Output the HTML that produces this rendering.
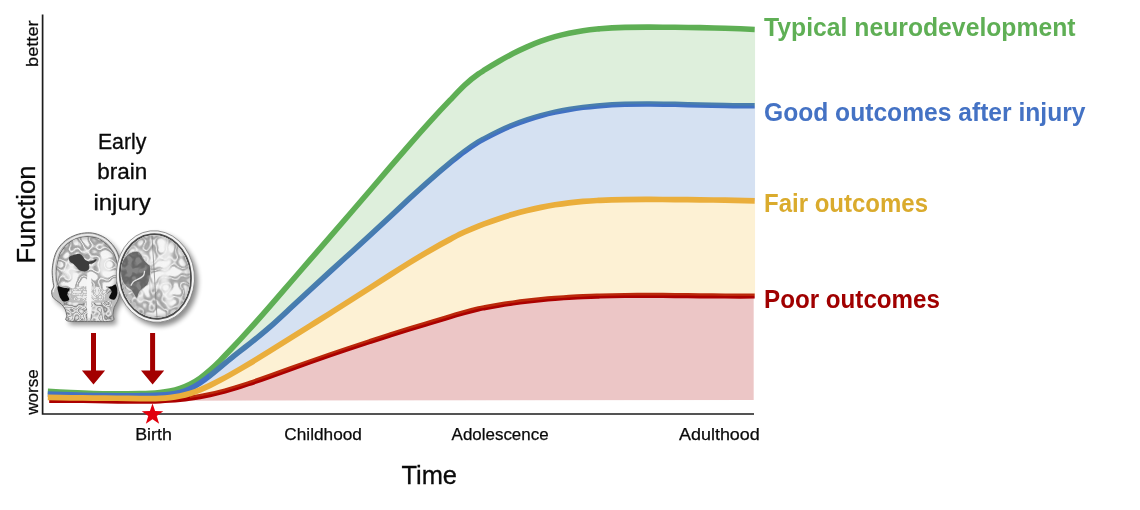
<!DOCTYPE html>
<html lang="en">
<head>
<meta charset="utf-8">
<title>Neurodevelopmental outcomes after early brain injury</title>
<style>
html,body{margin:0;padding:0;background:#fff;}
body{width:1140px;height:510px;overflow:hidden;font-family:"Liberation Sans",sans-serif;}
svg{display:block;}
text{font-family:"Liberation Sans",sans-serif;}
.lg{font-size:25px;font-weight:bold;}
.ax{font-size:25.4px;fill:#0a0a0a;stroke:#0a0a0a;stroke-width:0.3px;}
.sm{font-size:17.1px;fill:#0a0a0a;stroke:#0a0a0a;stroke-width:0.25px;}
.md{font-size:21.8px;fill:#0a0a0a;stroke:#0a0a0a;stroke-width:0.3px;}
</style>
</head>
<body>
<svg width="1140" height="510" viewBox="0 0 1140 510">
<rect width="1140" height="510" fill="#ffffff"/>
<!-- outcome curves -->
<g stroke-linejoin="round">
<path d="M47.80,391.34 C55.47,391.75 63.13,392.20 70.80,392.60 C78.47,393.00 86.13,393.36 93.80,393.56 C101.47,393.76 109.13,393.80 116.80,393.77 C124.47,393.74 132.13,393.63 139.80,393.50 C139.87,393.50 139.93,393.50 140.00,393.50 C143.33,393.44 146.67,393.37 150.00,393.23 C153.33,393.09 156.67,392.87 160.00,392.52 C163.33,392.17 166.67,391.68 170.00,391.01 C173.33,390.34 176.67,389.48 180.00,388.36 C183.33,387.24 186.67,385.87 190.00,384.20 C193.33,382.53 196.67,380.54 200.00,378.19 C203.33,375.84 206.67,373.12 210.00,370.15 C213.33,367.18 216.67,363.97 220.00,360.62 C223.33,357.27 226.67,353.80 230.00,350.29 C233.33,346.78 236.67,343.22 240.00,339.62 C243.33,336.02 246.67,332.37 250.00,328.68 C256.67,321.30 263.33,313.73 270.00,306.06 C276.67,298.39 283.33,290.68 290.00,282.99 C296.67,275.30 303.33,267.63 310.00,259.95 C316.67,252.27 323.33,244.59 330.00,236.90 C336.67,229.21 343.33,221.49 350.00,213.76 C356.67,206.03 363.33,198.27 370.00,190.48 C376.67,182.69 383.33,174.90 390.00,167.14 C396.67,159.38 403.33,151.68 410.00,144.07 C416.67,136.46 423.33,128.96 430.00,121.62 C436.67,114.28 443.33,107.12 450.00,100.17 C454.83,95.13 459.67,89.96 464.50,85.32 C469.17,80.84 473.83,77.01 478.50,73.82 C480.67,72.35 482.83,71.08 485.00,69.71 C489.67,66.75 494.33,63.92 499.00,61.23 C503.67,58.54 508.33,55.99 513.00,53.59 C517.67,51.19 522.33,48.96 527.00,46.89 C531.67,44.82 536.33,42.92 541.00,41.21 C545.67,39.50 550.33,37.99 555.00,36.66 C559.67,35.33 564.33,34.20 569.00,33.22 C573.67,32.24 578.33,31.42 583.00,30.73 C587.67,30.04 592.33,29.49 597.00,29.04 C598.00,28.94 599.00,28.86 600.00,28.77 C608.33,28.05 616.67,27.63 625.00,27.40 C633.33,27.17 641.67,27.12 650.00,27.14 C658.33,27.16 666.67,27.22 675.00,27.31 C683.33,27.40 691.67,27.51 700.00,27.67 C708.33,27.83 716.67,28.03 725.00,28.29 C734.90,28.60 744.80,28.98 754.70,29.47" fill="none" stroke="#5FAF55" stroke-width="5.6"/>
<path d="M47.80,394.00 C55.47,394.34 63.13,394.62 70.80,394.85 C78.47,395.08 86.13,395.27 93.80,395.40 C101.47,395.53 109.13,395.60 116.80,395.64 C124.47,395.68 132.13,395.70 139.80,395.63 C139.87,395.63 139.93,395.62 140.00,395.62 C143.33,395.59 146.67,395.54 150.00,395.45 C153.33,395.36 156.67,395.23 160.00,395.05 C163.33,394.87 166.67,394.63 170.00,394.22 C173.33,393.81 176.67,393.22 180.00,392.35 C183.33,391.48 186.67,390.33 190.00,388.77 C193.33,387.21 196.67,385.25 200.00,383.02 C203.33,380.79 206.67,378.28 210.00,375.63 C213.33,372.98 216.67,370.20 220.00,367.41 C223.33,364.62 226.67,361.83 230.00,359.13 C233.33,356.43 236.67,353.80 240.00,351.18 C243.33,348.56 246.67,345.96 250.00,343.34 C256.67,338.09 263.33,332.75 270.00,326.93 C276.67,321.11 283.33,314.83 290.00,308.61 C296.67,302.39 303.33,296.19 310.00,290.02 C316.67,283.85 323.33,277.72 330.00,271.64 C336.67,265.56 343.33,259.52 350.00,253.47 C356.67,247.42 363.33,241.37 370.00,235.23 C376.67,229.09 383.33,222.87 390.00,216.64 C396.67,210.41 403.33,204.19 410.00,198.05 C416.67,191.91 423.33,185.85 430.00,179.97 C436.67,174.09 443.33,168.38 450.00,162.94 C454.83,158.99 459.67,154.89 464.50,151.42 C469.17,148.07 473.83,144.91 478.50,141.94 C480.67,140.56 482.83,139.56 485.00,138.36 C489.67,135.77 494.33,133.37 499.00,131.15 C503.67,128.93 508.33,126.88 513.00,125.00 C517.67,123.12 522.33,121.41 527.00,119.84 C531.67,118.27 536.33,116.86 541.00,115.58 C545.67,114.30 550.33,113.16 555.00,112.14 C559.67,111.12 564.33,110.22 569.00,109.43 C573.67,108.64 578.33,107.96 583.00,107.38 C587.67,106.80 592.33,106.31 597.00,105.90 C598.00,105.81 599.00,105.73 600.00,105.65 C608.33,104.99 616.67,104.58 625.00,104.34 C633.33,104.10 641.67,104.03 650.00,104.06 C658.33,104.09 666.67,104.21 675.00,104.37 C683.33,104.53 691.67,104.72 700.00,104.92 C708.33,105.12 716.67,105.32 725.00,105.48 C734.90,105.67 744.80,105.81 754.70,105.82" fill="none" stroke="#4472C4" stroke-width="5.5"/>
<path d="M49.20,400.30 C56.87,400.25 64.53,400.28 72.20,400.36 C79.87,400.44 87.53,400.57 95.20,400.71 C102.87,400.85 110.53,401.01 118.20,401.12 C125.47,401.22 132.73,401.27 140.00,401.23 C143.33,401.21 146.67,401.17 150.00,401.10 C153.33,401.03 156.67,400.92 160.00,400.78 C163.33,400.64 166.67,400.45 170.00,400.22 C173.33,399.99 176.67,399.71 180.00,399.37 C183.33,399.03 186.67,398.64 190.00,398.18 C193.33,397.72 196.67,397.21 200.00,396.61 C203.33,396.01 206.67,395.34 210.00,394.60 C213.33,393.86 216.67,393.06 220.00,392.20 C223.33,391.34 226.67,390.43 230.00,389.47 C233.33,388.51 236.67,387.51 240.00,386.46 C243.33,385.41 246.67,384.32 250.00,383.21 C256.67,380.98 263.33,378.63 270.00,376.24 C276.67,373.85 283.33,371.40 290.00,368.98 C296.67,366.56 303.33,364.18 310.00,361.83 C316.67,359.48 323.33,357.16 330.00,354.87 C336.67,352.58 343.33,350.33 350.00,348.11 C356.67,345.89 363.33,343.69 370.00,341.52 C376.67,339.35 383.33,337.21 390.00,335.10 C396.67,332.99 403.33,330.89 410.00,328.83 C416.67,326.77 423.33,324.73 430.00,322.71 C436.67,320.69 443.33,318.69 450.00,316.71 C454.83,315.28 459.67,313.84 464.50,312.44 C469.17,311.08 473.83,309.89 478.50,308.87 C480.67,308.39 482.83,308.05 485.00,307.63 C489.67,306.73 494.33,305.90 499.00,305.13 C503.67,304.36 508.33,303.64 513.00,302.98 C517.67,302.32 522.33,301.71 527.00,301.16 C531.67,300.61 536.33,300.11 541.00,299.65 C545.67,299.19 550.33,298.78 555.00,298.41 C559.67,298.04 564.33,297.72 569.00,297.43 C573.67,297.14 578.33,296.89 583.00,296.67 C587.67,296.45 592.33,296.27 597.00,296.12 C598.00,296.09 599.00,296.05 600.00,296.02 C608.33,295.77 616.67,295.61 625.00,295.51 C633.33,295.41 641.67,295.39 650.00,295.40 C658.33,295.41 666.67,295.47 675.00,295.54 C683.33,295.61 691.67,295.71 700.00,295.79 C708.33,295.87 716.67,295.95 725.00,296.00 C734.90,296.06 744.80,296.07 754.70,296.00" fill="none" stroke="#AC0000" stroke-width="5.2"/>
</g>
<!-- shaded outcome bands -->
<g>
<clipPath id="cg"><rect x="209.0" y="0" width="546.2" height="420"/></clipPath>
<path d="M47.80,391.34 C55.47,391.75 63.13,392.20 70.80,392.60 C78.47,393.00 86.13,393.36 93.80,393.56 C101.47,393.76 109.13,393.80 116.80,393.77 C124.47,393.74 132.13,393.63 139.80,393.50 C139.87,393.50 139.93,393.50 140.00,393.50 C143.33,393.44 146.67,393.37 150.00,393.23 C153.33,393.09 156.67,392.87 160.00,392.52 C163.33,392.17 166.67,391.68 170.00,391.01 C173.33,390.34 176.67,389.48 180.00,388.36 C183.33,387.24 186.67,385.87 190.00,384.20 C193.33,382.53 196.67,380.54 200.00,378.19 C203.33,375.84 206.67,373.12 210.00,370.15 C213.33,367.18 216.67,363.97 220.00,360.62 C223.33,357.27 226.67,353.80 230.00,350.29 C233.33,346.78 236.67,343.22 240.00,339.62 C243.33,336.02 246.67,332.37 250.00,328.68 C256.67,321.30 263.33,313.73 270.00,306.06 C276.67,298.39 283.33,290.68 290.00,282.99 C296.67,275.30 303.33,267.63 310.00,259.95 C316.67,252.27 323.33,244.59 330.00,236.90 C336.67,229.21 343.33,221.49 350.00,213.76 C356.67,206.03 363.33,198.27 370.00,190.48 C376.67,182.69 383.33,174.90 390.00,167.14 C396.67,159.38 403.33,151.68 410.00,144.07 C416.67,136.46 423.33,128.96 430.00,121.62 C436.67,114.28 443.33,107.12 450.00,100.17 C454.83,95.13 459.67,89.96 464.50,85.32 C469.17,80.84 473.83,77.01 478.50,73.82 C480.67,72.35 482.83,71.08 485.00,69.71 C489.67,66.75 494.33,63.92 499.00,61.23 C503.67,58.54 508.33,55.99 513.00,53.59 C517.67,51.19 522.33,48.96 527.00,46.89 C531.67,44.82 536.33,42.92 541.00,41.21 C545.67,39.50 550.33,37.99 555.00,36.66 C559.67,35.33 564.33,34.20 569.00,33.22 C573.67,32.24 578.33,31.42 583.00,30.73 C587.67,30.04 592.33,29.49 597.00,29.04 C598.00,28.94 599.00,28.86 600.00,28.77 C608.33,28.05 616.67,27.63 625.00,27.40 C633.33,27.17 641.67,27.12 650.00,27.14 C658.33,27.16 666.67,27.22 675.00,27.31 C683.33,27.40 691.67,27.51 700.00,27.67 C708.33,27.83 716.67,28.03 725.00,28.29 C734.90,28.60 744.80,28.98 754.70,29.47 L755.20,29.47 L755.20,105.82 L754.70,105.82 C744.80,105.81 734.90,105.67 725.00,105.48 C716.67,105.32 708.33,105.12 700.00,104.92 C691.67,104.72 683.33,104.53 675.00,104.37 C666.67,104.21 658.33,104.09 650.00,104.06 C641.67,104.03 633.33,104.10 625.00,104.34 C616.67,104.58 608.33,104.99 600.00,105.65 C599.00,105.73 598.00,105.81 597.00,105.90 C592.33,106.31 587.67,106.80 583.00,107.38 C578.33,107.96 573.67,108.64 569.00,109.43 C564.33,110.22 559.67,111.12 555.00,112.14 C550.33,113.16 545.67,114.30 541.00,115.58 C536.33,116.86 531.67,118.27 527.00,119.84 C522.33,121.41 517.67,123.12 513.00,125.00 C508.33,126.88 503.67,128.93 499.00,131.15 C494.33,133.37 489.67,135.77 485.00,138.36 C482.83,139.56 480.67,140.56 478.50,141.94 C473.83,144.91 469.17,148.07 464.50,151.42 C459.67,154.89 454.83,160.74 450.00,165.19 C443.33,171.34 436.67,177.39 430.00,183.27 C423.33,189.15 416.67,195.21 410.00,201.35 C403.33,207.49 396.67,213.71 390.00,219.94 C383.33,226.17 376.67,232.39 370.00,238.53 C363.33,244.67 356.67,250.72 350.00,256.77 C343.33,262.82 336.67,268.86 330.00,274.94 C323.33,281.02 316.67,287.15 310.00,293.32 C303.33,299.49 296.67,305.69 290.00,311.91 C283.33,318.13 276.67,324.41 270.00,330.23 C263.33,336.05 256.67,341.39 250.00,346.64 C246.67,349.26 243.33,351.86 240.00,354.48 C236.67,357.10 233.33,359.73 230.00,362.43 C226.67,365.13 223.33,367.92 220.00,370.71 C216.67,373.50 213.33,376.28 210.00,378.93 C206.67,381.58 203.33,384.09 200.00,386.32 C196.67,388.55 193.33,390.51 190.00,392.07 C186.67,393.63 183.33,394.78 180.00,395.65 C176.67,396.52 173.33,397.11 170.00,397.52 C166.67,397.93 163.33,398.17 160.00,398.35 C156.67,398.53 153.33,398.66 150.00,398.75 C146.67,398.84 143.33,398.89 140.00,398.92 C139.93,398.92 139.87,398.93 139.80,398.93 C132.13,399.00 124.47,398.98 116.80,398.94 C109.13,398.90 101.47,398.83 93.80,398.70 C86.13,398.57 78.47,398.38 70.80,398.15 C63.13,397.92 55.47,397.64 47.80,397.30 Z" fill="rgba(95,175,85,0.205)" clip-path="url(#cg)"/>
<clipPath id="cb"><rect x="194.0" y="0" width="561.2" height="420"/></clipPath>
<path d="M47.80,394.00 C55.47,394.34 63.13,394.62 70.80,394.85 C78.47,395.08 86.13,395.27 93.80,395.40 C101.47,395.53 109.13,395.60 116.80,395.64 C124.47,395.68 132.13,395.70 139.80,395.63 C139.87,395.63 139.93,395.62 140.00,395.62 C143.33,395.59 146.67,395.54 150.00,395.45 C153.33,395.36 156.67,395.23 160.00,395.05 C163.33,394.87 166.67,394.63 170.00,394.22 C173.33,393.81 176.67,393.22 180.00,392.35 C183.33,391.48 186.67,390.33 190.00,388.77 C193.33,387.21 196.67,385.25 200.00,383.02 C203.33,380.79 206.67,378.28 210.00,375.63 C213.33,372.98 216.67,370.20 220.00,367.41 C223.33,364.62 226.67,361.83 230.00,359.13 C233.33,356.43 236.67,353.80 240.00,351.18 C243.33,348.56 246.67,345.96 250.00,343.34 C256.67,338.09 263.33,332.75 270.00,326.93 C276.67,321.11 283.33,314.83 290.00,308.61 C296.67,302.39 303.33,296.19 310.00,290.02 C316.67,283.85 323.33,277.72 330.00,271.64 C336.67,265.56 343.33,259.52 350.00,253.47 C356.67,247.42 363.33,241.37 370.00,235.23 C376.67,229.09 383.33,222.87 390.00,216.64 C396.67,210.41 403.33,204.19 410.00,198.05 C416.67,191.91 423.33,185.85 430.00,179.97 C436.67,174.09 443.33,168.38 450.00,162.94 C454.83,158.99 459.67,154.89 464.50,151.42 C469.17,148.07 473.83,144.91 478.50,141.94 C480.67,140.56 482.83,139.56 485.00,138.36 C489.67,135.77 494.33,133.37 499.00,131.15 C503.67,128.93 508.33,126.88 513.00,125.00 C517.67,123.12 522.33,121.41 527.00,119.84 C531.67,118.27 536.33,116.86 541.00,115.58 C545.67,114.30 550.33,113.16 555.00,112.14 C559.67,111.12 564.33,110.22 569.00,109.43 C573.67,108.64 578.33,107.96 583.00,107.38 C587.67,106.80 592.33,106.31 597.00,105.90 C598.00,105.81 599.00,105.73 600.00,105.65 C608.33,104.99 616.67,104.58 625.00,104.34 C633.33,104.10 641.67,104.03 650.00,104.06 C658.33,104.09 666.67,104.21 675.00,104.37 C683.33,104.53 691.67,104.72 700.00,104.92 C708.33,105.12 716.67,105.32 725.00,105.48 C734.90,105.67 744.80,105.81 754.70,105.82 L755.20,105.82 L755.20,200.93 L754.70,200.93 C744.80,200.63 734.90,200.39 725.00,200.20 C716.67,200.04 708.33,199.91 700.00,199.81 C691.67,199.71 683.33,199.63 675.00,199.57 C666.67,199.51 658.33,199.47 650.00,199.45 C641.67,199.43 633.33,199.46 625.00,199.59 C616.67,199.72 608.33,199.94 600.00,200.35 C599.00,200.40 598.00,200.46 597.00,200.51 C592.33,200.76 587.67,201.07 583.00,201.46 C578.33,201.85 573.67,202.30 569.00,202.85 C564.33,203.40 559.67,204.05 555.00,204.79 C550.33,205.53 545.67,206.38 541.00,207.34 C536.33,208.30 531.67,209.37 527.00,210.54 C522.33,211.71 517.67,212.97 513.00,214.34 C508.33,215.71 503.67,217.17 499.00,218.72 C494.33,220.27 489.67,221.92 485.00,223.65 C482.83,224.45 480.67,225.18 478.50,226.06 C473.83,227.95 469.17,229.94 464.50,232.02 C459.67,234.17 454.83,236.83 450.00,239.36 C443.33,242.85 436.67,246.56 430.00,250.42 C423.33,254.28 416.67,258.30 410.00,262.42 C403.33,266.54 396.67,270.75 390.00,275.01 C383.33,279.27 376.67,283.57 370.00,287.86 C363.33,292.15 356.67,296.41 350.00,300.65 C343.33,304.89 336.67,309.10 330.00,313.30 C323.33,317.50 316.67,321.68 310.00,325.86 C303.33,330.04 296.67,334.21 290.00,338.39 C283.33,342.57 276.67,346.75 270.00,350.90 C263.33,355.05 256.67,359.17 250.00,363.18 C246.67,365.19 243.33,367.17 240.00,369.12 C236.67,371.07 233.33,372.99 230.00,374.86 C226.67,376.73 223.33,378.56 220.00,380.33 C216.67,382.10 213.33,383.81 210.00,385.41 C206.67,387.01 203.33,388.52 200.00,389.87 C196.67,391.22 193.33,392.43 190.00,393.45 C186.67,394.47 183.33,395.30 180.00,395.98 C176.67,396.66 173.33,397.18 170.00,397.57 C166.67,397.96 163.33,398.23 160.00,398.41 C156.67,398.59 153.33,398.66 150.00,398.69 C146.67,398.72 143.33,398.68 140.00,398.63 C139.93,398.63 139.87,398.63 139.80,398.63 C132.13,398.51 124.47,398.35 116.80,398.26 C109.13,398.17 101.47,398.11 93.80,398.04 C86.13,397.97 78.47,397.90 70.80,397.78 C63.13,397.66 55.47,397.51 47.80,397.28 Z" fill="rgba(58,112,194,0.21)" clip-path="url(#cb)"/>
<clipPath id="cy"><rect x="190.0" y="0" width="565.2" height="420"/></clipPath>
<path d="M47.80,397.28 C55.47,397.51 63.13,397.66 70.80,397.78 C78.47,397.90 86.13,397.97 93.80,398.04 C101.47,398.11 109.13,398.17 116.80,398.26 C124.47,398.35 132.13,398.51 139.80,398.63 C139.87,398.63 139.93,398.63 140.00,398.63 C143.33,398.68 146.67,398.72 150.00,398.69 C153.33,398.66 156.67,398.59 160.00,398.41 C163.33,398.23 166.67,397.96 170.00,397.57 C173.33,397.18 176.67,396.66 180.00,395.98 C183.33,395.30 186.67,394.47 190.00,393.45 C193.33,392.43 196.67,391.22 200.00,389.87 C203.33,388.52 206.67,387.01 210.00,385.41 C213.33,383.81 216.67,382.10 220.00,380.33 C223.33,378.56 226.67,376.73 230.00,374.86 C233.33,372.99 236.67,371.07 240.00,369.12 C243.33,367.17 246.67,365.19 250.00,363.18 C256.67,359.17 263.33,355.05 270.00,350.90 C276.67,346.75 283.33,342.57 290.00,338.39 C296.67,334.21 303.33,330.04 310.00,325.86 C316.67,321.68 323.33,317.50 330.00,313.30 C336.67,309.10 343.33,304.89 350.00,300.65 C356.67,296.41 363.33,292.15 370.00,287.86 C376.67,283.57 383.33,279.27 390.00,275.01 C396.67,270.75 403.33,266.54 410.00,262.42 C416.67,258.30 423.33,254.28 430.00,250.42 C436.67,246.56 443.33,242.85 450.00,239.36 C454.83,236.83 459.67,234.17 464.50,232.02 C469.17,229.94 473.83,227.95 478.50,226.06 C480.67,225.18 482.83,224.45 485.00,223.65 C489.67,221.92 494.33,220.27 499.00,218.72 C503.67,217.17 508.33,215.71 513.00,214.34 C517.67,212.97 522.33,211.71 527.00,210.54 C531.67,209.37 536.33,208.30 541.00,207.34 C545.67,206.38 550.33,205.53 555.00,204.79 C559.67,204.05 564.33,203.40 569.00,202.85 C573.67,202.30 578.33,201.85 583.00,201.46 C587.67,201.07 592.33,200.76 597.00,200.51 C598.00,200.46 599.00,200.40 600.00,200.35 C608.33,199.94 616.67,199.72 625.00,199.59 C633.33,199.46 641.67,199.43 650.00,199.45 C658.33,199.47 666.67,199.51 675.00,199.57 C683.33,199.63 691.67,199.71 700.00,199.81 C708.33,199.91 716.67,200.04 725.00,200.20 C734.90,200.39 744.80,200.63 754.70,200.93 L755.20,200.93 L755.20,296.00 L754.70,296.00 C744.80,296.07 734.90,296.06 725.00,296.00 C716.67,295.95 708.33,295.87 700.00,295.79 C691.67,295.71 683.33,295.61 675.00,295.54 C666.67,295.47 658.33,295.41 650.00,295.40 C641.67,295.39 633.33,295.41 625.00,295.51 C616.67,295.61 608.33,295.77 600.00,296.02 C599.00,296.05 598.00,296.09 597.00,296.12 C592.33,296.27 587.67,296.45 583.00,296.67 C578.33,296.89 573.67,297.14 569.00,297.43 C564.33,297.72 559.67,298.04 555.00,298.41 C550.33,298.78 545.67,299.19 541.00,299.65 C536.33,300.11 531.67,300.61 527.00,301.16 C522.33,301.71 517.67,302.32 513.00,302.98 C508.33,303.64 503.67,304.36 499.00,305.13 C494.33,305.90 489.67,306.73 485.00,307.63 C482.83,308.05 480.67,308.39 478.50,308.87 C473.83,309.89 469.17,311.08 464.50,312.44 C459.67,313.84 454.83,315.28 450.00,316.71 C443.33,318.69 436.67,320.69 430.00,322.71 C423.33,324.73 416.67,326.77 410.00,328.83 C403.33,330.89 396.67,332.99 390.00,335.10 C383.33,337.21 376.67,339.35 370.00,341.52 C363.33,343.69 356.67,345.89 350.00,348.11 C343.33,350.33 336.67,352.58 330.00,354.87 C323.33,357.16 316.67,359.48 310.00,361.83 C303.33,364.18 296.67,366.56 290.00,368.98 C283.33,371.40 276.67,373.85 270.00,376.24 C263.33,378.63 256.67,380.98 250.00,383.21 C246.67,384.32 243.33,385.41 240.00,386.46 C236.67,387.51 233.33,388.51 230.00,389.47 C226.67,390.43 223.33,391.34 220.00,392.20 C216.67,393.06 213.33,393.86 210.00,394.60 C206.67,395.34 203.33,396.01 200.00,396.61 C196.67,397.21 193.33,397.72 190.00,398.18 C186.67,398.64 183.33,399.03 180.00,399.37 C176.67,399.71 173.33,399.99 170.00,400.22 C166.67,400.45 163.33,400.64 160.00,400.78 C156.67,400.92 153.33,401.03 150.00,401.10 C146.67,401.17 143.33,401.21 140.00,401.23 C132.73,401.27 125.47,401.22 118.20,401.12 C110.53,401.01 102.87,400.85 95.20,400.71 C87.53,400.57 79.87,400.44 72.20,400.36 C64.53,400.28 56.87,400.25 49.20,400.30 Z" fill="rgba(245,190,50,0.21)" clip-path="url(#cy)"/>
<path d="M49.20,400.30 C56.87,400.25 64.53,400.28 72.20,400.36 C79.87,400.44 87.53,400.57 95.20,400.71 C102.87,400.85 110.53,401.01 118.20,401.12 C125.47,401.22 132.73,401.27 140.00,401.23 C143.33,401.21 146.67,401.17 150.00,401.10 C153.33,401.03 156.67,400.92 160.00,400.78 C163.33,400.64 166.67,400.45 170.00,400.22 C173.33,399.99 176.67,399.71 180.00,399.37 C183.33,399.03 186.67,398.64 190.00,398.18 C193.33,397.72 196.67,397.21 200.00,396.61 C203.33,396.01 206.67,395.34 210.00,394.60 C213.33,393.86 216.67,393.06 220.00,392.20 C223.33,391.34 226.67,390.43 230.00,389.47 C233.33,388.51 236.67,387.51 240.00,386.46 C243.33,385.41 246.67,384.32 250.00,383.21 C256.67,380.98 263.33,378.63 270.00,376.24 C276.67,373.85 283.33,371.40 290.00,368.98 C296.67,366.56 303.33,364.18 310.00,361.83 C316.67,359.48 323.33,357.16 330.00,354.87 C336.67,352.58 343.33,350.33 350.00,348.11 C356.67,345.89 363.33,343.69 370.00,341.52 C376.67,339.35 383.33,337.21 390.00,335.10 C396.67,332.99 403.33,330.89 410.00,328.83 C416.67,326.77 423.33,324.73 430.00,322.71 C436.67,320.69 443.33,318.69 450.00,316.71 C454.83,315.28 459.67,313.84 464.50,312.44 C469.17,311.08 473.83,309.89 478.50,308.87 C480.67,308.39 482.83,308.05 485.00,307.63 C489.67,306.73 494.33,305.90 499.00,305.13 C503.67,304.36 508.33,303.64 513.00,302.98 C517.67,302.32 522.33,301.71 527.00,301.16 C531.67,300.61 536.33,300.11 541.00,299.65 C545.67,299.19 550.33,298.78 555.00,298.41 C559.67,298.04 564.33,297.72 569.00,297.43 C573.67,297.14 578.33,296.89 583.00,296.67 C587.67,296.45 592.33,296.27 597.00,296.12 C598.00,296.09 599.00,296.05 600.00,296.02 C608.33,295.77 616.67,295.61 625.00,295.51 C633.33,295.41 641.67,295.39 650.00,295.40 C658.33,295.41 666.67,295.47 675.00,295.54 C683.33,295.61 691.67,295.71 700.00,295.79 C708.33,295.87 716.67,295.95 725.00,296.00 C734.90,296.06 744.80,296.07 754.70,296.00 L753.70,296.00 L753.70,399.90 L185.00,400.70 Z" fill="rgba(168,0,0,0.225)" clip-path="url(#cy)"/>
</g>
<g stroke-linejoin="round">
<path d="M47.80,397.28 C55.47,397.51 63.13,397.66 70.80,397.78 C78.47,397.90 86.13,397.97 93.80,398.04 C101.47,398.11 109.13,398.17 116.80,398.26 C124.47,398.35 132.13,398.51 139.80,398.63 C139.87,398.63 139.93,398.63 140.00,398.63 C143.33,398.68 146.67,398.72 150.00,398.69 C153.33,398.66 156.67,398.59 160.00,398.41 C163.33,398.23 166.67,397.96 170.00,397.57 C173.33,397.18 176.67,396.66 180.00,395.98 C183.33,395.30 186.67,394.47 190.00,393.45 C193.33,392.43 196.67,391.22 200.00,389.87 C203.33,388.52 206.67,387.01 210.00,385.41 C213.33,383.81 216.67,382.10 220.00,380.33 C223.33,378.56 226.67,376.73 230.00,374.86 C233.33,372.99 236.67,371.07 240.00,369.12 C243.33,367.17 246.67,365.19 250.00,363.18 C256.67,359.17 263.33,355.05 270.00,350.90 C276.67,346.75 283.33,342.57 290.00,338.39 C296.67,334.21 303.33,330.04 310.00,325.86 C316.67,321.68 323.33,317.50 330.00,313.30 C336.67,309.10 343.33,304.89 350.00,300.65 C356.67,296.41 363.33,292.15 370.00,287.86 C376.67,283.57 383.33,279.27 390.00,275.01 C396.67,270.75 403.33,266.54 410.00,262.42 C416.67,258.30 423.33,254.28 430.00,250.42 C436.67,246.56 443.33,242.85 450.00,239.36 C454.83,236.83 459.67,234.17 464.50,232.02 C469.17,229.94 473.83,227.95 478.50,226.06 C480.67,225.18 482.83,224.45 485.00,223.65 C489.67,221.92 494.33,220.27 499.00,218.72 C503.67,217.17 508.33,215.71 513.00,214.34 C517.67,212.97 522.33,211.71 527.00,210.54 C531.67,209.37 536.33,208.30 541.00,207.34 C545.67,206.38 550.33,205.53 555.00,204.79 C559.67,204.05 564.33,203.40 569.00,202.85 C573.67,202.30 578.33,201.85 583.00,201.46 C587.67,201.07 592.33,200.76 597.00,200.51 C598.00,200.46 599.00,200.40 600.00,200.35 C608.33,199.94 616.67,199.72 625.00,199.59 C633.33,199.46 641.67,199.43 650.00,199.45 C658.33,199.47 666.67,199.51 675.00,199.57 C683.33,199.63 691.67,199.71 700.00,199.81 C708.33,199.91 716.67,200.04 725.00,200.20 C734.90,200.39 744.80,200.63 754.70,200.93" fill="none" stroke="#EAAE3C" stroke-width="5.7"/>
</g>
<!-- axes -->
<path d="M42.6,14.6 V414.0 H754" fill="none" stroke="#1c1c1c" stroke-width="1.7"/>
<!-- birth marker -->
<polygon points="152.50,403.40 155.12,411.10 163.25,411.21 156.73,416.08 159.14,423.84 152.50,419.15 145.86,423.84 148.27,416.08 141.75,411.21 149.88,411.10" fill="#E1000C"/>
<!-- injury arrows -->
<path d="M91.00,333.00 L96.00,333.00 L96.00,370.40 L105.10,370.40 L93.50,384.40 L81.90,370.40 L91.00,370.40 Z" fill="#A30000"/>
<path d="M150.10,333.00 L155.10,333.00 L155.10,370.40 L164.20,370.40 L152.60,384.40 L141.00,370.40 L150.10,370.40 Z" fill="#A30000"/>
<!-- brain scans -->
<defs>
<filter id="sh" x="-30%" y="-30%" width="170%" height="170%"><feGaussianBlur stdDeviation="2.4"/></filter>
<filter id="b1" x="-20%" y="-20%" width="140%" height="140%"><feGaussianBlur stdDeviation="0.5"/></filter>
<filter id="b2" x="-30%" y="-30%" width="160%" height="160%"><feGaussianBlur stdDeviation="1.8"/></filter>
<filter id="gy" x="0" y="0" width="100%" height="100%" color-interpolation-filters="sRGB"><feTurbulence type="fractalNoise" baseFrequency="0.1" numOctaves="1" seed="5"/><feColorMatrix type="matrix" values="1 0 0 0 0  1 0 0 0 0  1 0 0 0 0  0 0 0 0 1"/><feComponentTransfer><feFuncR type="table" tableValues="0.96 0.96 0.96 0.96 0.96 0.96 0.96 0.96 0.69 0.63 0.96 0.63 0.69 0.96 0.96 0.96 0.96 0.96 0.96 0.96 0.96"/><feFuncG type="table" tableValues="0.96 0.96 0.96 0.96 0.96 0.96 0.96 0.96 0.69 0.63 0.96 0.63 0.69 0.96 0.96 0.96 0.96 0.96 0.96 0.96 0.96"/><feFuncB type="table" tableValues="0.96 0.96 0.96 0.96 0.96 0.96 0.96 0.96 0.69 0.63 0.96 0.63 0.69 0.96 0.96 0.96 0.96 0.96 0.96 0.96 0.96"/></feComponentTransfer><feGaussianBlur stdDeviation="0.4"/><feComposite in2="SourceGraphic" operator="in"/></filter>
<filter id="gn" x="0" y="0" width="100%" height="100%" color-interpolation-filters="sRGB"><feTurbulence type="fractalNoise" baseFrequency="0.14" numOctaves="1" seed="9"/><feColorMatrix type="matrix" values="1 0 0 0 0  1 0 0 0 0  1 0 0 0 0  0 0 0 0 1"/><feComponentTransfer><feFuncR type="table" tableValues="0.92 0.92 0.92 0.92 0.92 0.92 0.92 0.79 0.50 0.79 0.92 0.62 0.92 0.54 0.78 0.92 0.92 0.92 0.92 0.92 0.92"/><feFuncG type="table" tableValues="0.92 0.92 0.92 0.92 0.92 0.92 0.92 0.79 0.50 0.79 0.92 0.62 0.92 0.54 0.78 0.92 0.92 0.92 0.92 0.92 0.92"/><feFuncB type="table" tableValues="0.92 0.92 0.92 0.92 0.92 0.92 0.92 0.79 0.50 0.79 0.92 0.62 0.92 0.54 0.78 0.92 0.92 0.92 0.92 0.92 0.92"/></feComponentTransfer><feGaussianBlur stdDeviation="0.5"/><feComposite in2="SourceGraphic" operator="in"/></filter>
<filter id="gl" x="0" y="0" width="100%" height="100%" color-interpolation-filters="sRGB"><feTurbulence type="fractalNoise" baseFrequency="0.12" numOctaves="2" seed="2"/><feColorMatrix type="matrix" values="1 0 0 0 0  1 0 0 0 0  1 0 0 0 0  0 0 0 0 1"/><feComponentTransfer><feFuncR type="table" tableValues="0.52 0.52 0.52 0.52 0.52 0.52 0.47 0.43 0.41 0.40 0.41 0.43 0.47 0.52 0.52 0.52 0.52 0.52 0.52 0.52 0.52"/><feFuncG type="table" tableValues="0.52 0.52 0.52 0.52 0.52 0.52 0.47 0.43 0.41 0.40 0.41 0.43 0.47 0.52 0.52 0.52 0.52 0.52 0.52 0.52 0.52"/><feFuncB type="table" tableValues="0.52 0.52 0.52 0.52 0.52 0.52 0.47 0.43 0.41 0.40 0.41 0.43 0.47 0.52 0.52 0.52 0.52 0.52 0.52 0.52 0.52"/></feComponentTransfer><feGaussianBlur stdDeviation="0.6"/><feComposite in2="SourceGraphic" operator="in"/></filter>
<filter id="gc" x="0" y="0" width="100%" height="100%" color-interpolation-filters="sRGB"><feTurbulence type="fractalNoise" baseFrequency="0.2" numOctaves="1" seed="4"/><feColorMatrix type="matrix" values="1 0 0 0 0  1 0 0 0 0  1 0 0 0 0  0 0 0 0 1"/><feComponentTransfer><feFuncR type="table" tableValues="0.96 0.96 0.96 0.96 0.96 0.96 0.96 0.96 0.69 0.63 0.96 0.63 0.69 0.96 0.96 0.96 0.96 0.96 0.96 0.96 0.96"/><feFuncG type="table" tableValues="0.96 0.96 0.96 0.96 0.96 0.96 0.96 0.96 0.69 0.63 0.96 0.63 0.69 0.96 0.96 0.96 0.96 0.96 0.96 0.96 0.96"/><feFuncB type="table" tableValues="0.96 0.96 0.96 0.96 0.96 0.96 0.96 0.96 0.69 0.63 0.96 0.63 0.69 0.96 0.96 0.96 0.96 0.96 0.96 0.96 0.96"/></feComponentTransfer><feGaussianBlur stdDeviation="0.3"/><feComposite in2="SourceGraphic" operator="in"/></filter>
<clipPath id="cup"><rect x="45" y="225" width="90" height="68"/></clipPath>
<clipPath id="cc"><path d="M87.2,232.8 C83.6,232.9 79.5,233.6 75.9,234.9 C72.3,236.2 68.7,238.0 65.6,240.4 C62.5,242.9 59.3,246.4 57.4,249.7 C55.4,253.0 54.5,256.6 53.6,260.0 C52.8,263.4 52.3,266.9 52.2,270.3 C52.1,273.7 52.6,277.8 52.8,280.6 C53.1,283.3 53.9,285.0 53.6,286.8 C53.4,288.6 51.7,289.6 51.6,291.3 C51.5,293.0 52.0,295.6 52.8,297.1 C53.6,298.6 54.9,299.2 56.3,300.4 C57.8,301.6 60.0,302.8 61.5,304.3 C62.9,305.8 64.3,307.5 65.2,309.4 C66.1,311.3 66.4,313.7 66.8,315.6 C67.2,317.5 63.7,320.0 67.6,320.9 C71.6,321.9 82.9,321.4 90.3,321.4 C97.7,321.4 108.3,322.1 112.1,320.9 C115.9,319.8 112.6,316.8 112.9,314.6 C113.3,312.3 113.4,309.6 114.2,307.4 C114.9,305.1 116.5,303.6 117.5,301.2 C118.4,298.8 119.3,296.0 119.9,292.9 C120.6,289.9 120.9,286.1 121.2,282.6 C121.4,279.2 121.6,276.1 121.4,272.4 C121.1,268.6 120.6,263.8 119.7,260.0 C118.8,256.2 118.0,253.1 116.0,249.7 C114.0,246.3 110.9,242.4 107.8,239.8 C104.7,237.3 100.9,235.4 97.5,234.3 C94.1,233.1 90.8,232.7 87.2,232.8Z"/></clipPath>
<clipPath id="cbr"><path d="M87.2,236.9 C83.6,237.0 79.2,237.7 75.9,239.0 C72.6,240.3 69.8,242.2 67.2,244.6 C64.7,247.0 62.2,250.3 60.6,253.4 C59.1,256.5 58.5,259.8 57.8,263.1 C57.1,266.4 56.5,270.0 56.5,273.4 C56.5,276.8 56.9,281.0 57.8,283.7 C58.7,286.3 60.2,287.6 61.9,289.2 C63.6,290.8 65.7,292.2 68.1,293.4 C70.4,294.5 72.7,295.6 75.9,296.2 C79.1,296.9 83.4,297.5 87.2,297.5 C91.0,297.5 95.3,296.9 98.5,296.2 C101.7,295.6 103.9,294.7 106.4,293.4 C108.8,292.1 111.6,290.5 113.4,288.4 C115.1,286.4 115.9,283.8 116.6,281.0 C117.4,278.2 117.7,274.7 117.7,271.3 C117.6,268.0 117.1,264.3 116.2,261.0 C115.4,257.8 114.2,254.6 112.5,251.8 C110.8,249.0 108.4,246.3 105.9,244.1 C103.4,242.0 100.6,239.8 97.5,238.6 C94.4,237.4 90.8,236.9 87.2,236.9Z"/></clipPath>
<clipPath id="cai"><ellipse cx="155.4" cy="276.5" rx="34.5" ry="41.4" transform="rotate(-6.5 155.4 276.5)" /></clipPath>
</defs>
<g>
<!-- coronal slice -->
<path d="M87.2,232.8 C83.6,232.9 79.5,233.6 75.9,234.9 C72.3,236.2 68.7,238.0 65.6,240.4 C62.5,242.9 59.3,246.4 57.4,249.7 C55.4,253.0 54.5,256.6 53.6,260.0 C52.8,263.4 52.3,266.9 52.2,270.3 C52.1,273.7 52.6,277.8 52.8,280.6 C53.1,283.3 53.9,285.0 53.6,286.8 C53.4,288.6 51.7,289.6 51.6,291.3 C51.5,293.0 52.0,295.6 52.8,297.1 C53.6,298.6 54.9,299.2 56.3,300.4 C57.8,301.6 60.0,302.8 61.5,304.3 C62.9,305.8 64.3,307.5 65.2,309.4 C66.1,311.3 66.4,313.7 66.8,315.6 C67.2,317.5 63.7,320.0 67.6,320.9 C71.6,321.9 82.9,321.4 90.3,321.4 C97.7,321.4 108.3,322.1 112.1,320.9 C115.9,319.8 112.6,316.8 112.9,314.6 C113.3,312.3 113.4,309.6 114.2,307.4 C114.9,305.1 116.5,303.6 117.5,301.2 C118.4,298.8 119.3,296.0 119.9,292.9 C120.6,289.9 120.9,286.1 121.2,282.6 C121.4,279.2 121.6,276.1 121.4,272.4 C121.1,268.6 120.6,263.8 119.7,260.0 C118.8,256.2 118.0,253.1 116.0,249.7 C114.0,246.3 110.9,242.4 107.8,239.8 C104.7,237.3 100.9,235.4 97.5,234.3 C94.1,233.1 90.8,232.7 87.2,232.8Z" fill="#000" opacity="0.42" filter="url(#sh)" transform="translate(3,3.5)"/>
<path d="M87.2,232.8 C83.6,232.9 79.5,233.6 75.9,234.9 C72.3,236.2 68.7,238.0 65.6,240.4 C62.5,242.9 59.3,246.4 57.4,249.7 C55.4,253.0 54.5,256.6 53.6,260.0 C52.8,263.4 52.3,266.9 52.2,270.3 C52.1,273.7 52.6,277.8 52.8,280.6 C53.1,283.3 53.9,285.0 53.6,286.8 C53.4,288.6 51.7,289.6 51.6,291.3 C51.5,293.0 52.0,295.6 52.8,297.1 C53.6,298.6 54.9,299.2 56.3,300.4 C57.8,301.6 60.0,302.8 61.5,304.3 C62.9,305.8 64.3,307.5 65.2,309.4 C66.1,311.3 66.4,313.7 66.8,315.6 C67.2,317.5 63.7,320.0 67.6,320.9 C71.6,321.9 82.9,321.4 90.3,321.4 C97.7,321.4 108.3,322.1 112.1,320.9 C115.9,319.8 112.6,316.8 112.9,314.6 C113.3,312.3 113.4,309.6 114.2,307.4 C114.9,305.1 116.5,303.6 117.5,301.2 C118.4,298.8 119.3,296.0 119.9,292.9 C120.6,289.9 120.9,286.1 121.2,282.6 C121.4,279.2 121.6,276.1 121.4,272.4 C121.1,268.6 120.6,263.8 119.7,260.0 C118.8,256.2 118.0,253.1 116.0,249.7 C114.0,246.3 110.9,242.4 107.8,239.8 C104.7,237.3 100.9,235.4 97.5,234.3 C94.1,233.1 90.8,232.7 87.2,232.8Z" fill="#bdbdbd"/>
<path d="M87.2,232.8 C83.6,232.9 79.5,233.6 75.9,234.9 C72.3,236.2 68.7,238.0 65.6,240.4 C62.5,242.9 59.3,246.4 57.4,249.7 C55.4,253.0 54.5,256.6 53.6,260.0 C52.8,263.4 52.3,266.9 52.2,270.3 C52.1,273.7 52.6,277.8 52.8,280.6 C53.1,283.3 53.9,285.0 53.6,286.8 C53.4,288.6 51.7,289.6 51.6,291.3 C51.5,293.0 52.0,295.6 52.8,297.1 C53.6,298.6 54.9,299.2 56.3,300.4 C57.8,301.6 60.0,302.8 61.5,304.3 C62.9,305.8 64.3,307.5 65.2,309.4 C66.1,311.3 66.4,313.7 66.8,315.6 C67.2,317.5 63.7,320.0 67.6,320.9 C71.6,321.9 82.9,321.4 90.3,321.4 C97.7,321.4 108.3,322.1 112.1,320.9 C115.9,319.8 112.6,316.8 112.9,314.6 C113.3,312.3 113.4,309.6 114.2,307.4 C114.9,305.1 116.5,303.6 117.5,301.2 C118.4,298.8 119.3,296.0 119.9,292.9 C120.6,289.9 120.9,286.1 121.2,282.6 C121.4,279.2 121.6,276.1 121.4,272.4 C121.1,268.6 120.6,263.8 119.7,260.0 C118.8,256.2 118.0,253.1 116.0,249.7 C114.0,246.3 110.9,242.4 107.8,239.8 C104.7,237.3 100.9,235.4 97.5,234.3 C94.1,233.1 90.8,232.7 87.2,232.8Z" fill="none" stroke="#ececec" stroke-width="1.5" transform="translate(87 275) scale(0.95 0.955) translate(-87 -275)" clip-path="url(#cup)"/>
<g clip-path="url(#cc)">
<path d="M63.9,301.4 C65.6,300.0 71.5,302.2 75.5,302.5 C79.6,302.7 84.0,303.0 88.2,303.0 C92.4,303.0 97.0,302.8 100.9,302.5 C104.8,302.1 109.8,299.5 111.5,300.9 C113.2,302.3 111.1,307.7 111.0,310.9 C110.8,314.1 114.2,318.6 110.4,320.2 C106.6,321.8 95.6,320.4 88.2,320.4 C80.8,320.4 70.1,321.8 66.2,320.2 C62.3,318.6 65.3,314.1 64.9,310.9 C64.5,307.8 62.1,302.8 63.9,301.4Z" fill="#fff" filter="url(#gn)"/>
<path d="M87.2,236.9 C83.6,237.0 79.2,237.7 75.9,239.0 C72.6,240.3 69.8,242.2 67.2,244.6 C64.7,247.0 62.2,250.3 60.6,253.4 C59.1,256.5 58.5,259.8 57.8,263.1 C57.1,266.4 56.5,270.0 56.5,273.4 C56.5,276.8 56.9,281.0 57.8,283.7 C58.7,286.3 60.2,287.6 61.9,289.2 C63.6,290.8 65.7,292.2 68.1,293.4 C70.4,294.5 72.7,295.6 75.9,296.2 C79.1,296.9 83.4,297.5 87.2,297.5 C91.0,297.5 95.3,296.9 98.5,296.2 C101.7,295.6 103.9,294.7 106.4,293.4 C108.8,292.1 111.6,290.5 113.4,288.4 C115.1,286.4 115.9,283.8 116.6,281.0 C117.4,278.2 117.7,274.7 117.7,271.3 C117.6,268.0 117.1,264.3 116.2,261.0 C115.4,257.8 114.2,254.6 112.5,251.8 C110.8,249.0 108.4,246.3 105.9,244.1 C103.4,242.0 100.6,239.8 97.5,238.6 C94.4,237.4 90.8,236.9 87.2,236.9Z" fill="#e4e4e4" stroke="#545454" stroke-width="1.3"/>
<path d="M87.2,236.9 C83.6,237.0 79.2,237.7 75.9,239.0 C72.6,240.3 69.8,242.2 67.2,244.6 C64.7,247.0 62.2,250.3 60.6,253.4 C59.1,256.5 58.5,259.8 57.8,263.1 C57.1,266.4 56.5,270.0 56.5,273.4 C56.5,276.8 56.9,281.0 57.8,283.7 C58.7,286.3 60.2,287.6 61.9,289.2 C63.6,290.8 65.7,292.2 68.1,293.4 C70.4,294.5 72.7,295.6 75.9,296.2 C79.1,296.9 83.4,297.5 87.2,297.5 C91.0,297.5 95.3,296.9 98.5,296.2 C101.7,295.6 103.9,294.7 106.4,293.4 C108.8,292.1 111.6,290.5 113.4,288.4 C115.1,286.4 115.9,283.8 116.6,281.0 C117.4,278.2 117.7,274.7 117.7,271.3 C117.6,268.0 117.1,264.3 116.2,261.0 C115.4,257.8 114.2,254.6 112.5,251.8 C110.8,249.0 108.4,246.3 105.9,244.1 C103.4,242.0 100.6,239.8 97.5,238.6 C94.4,237.4 90.8,236.9 87.2,236.9Z" fill="#fff" filter="url(#gy)"/>
<path d="M87.2,236.9 C83.6,237.0 79.2,237.7 75.9,239.0 C72.6,240.3 69.8,242.2 67.2,244.6 C64.7,247.0 62.2,250.3 60.6,253.4 C59.1,256.5 58.5,259.8 57.8,263.1 C57.1,266.4 56.5,270.0 56.5,273.4 C56.5,276.8 56.9,281.0 57.8,283.7 C58.7,286.3 60.2,287.6 61.9,289.2 C63.6,290.8 65.7,292.2 68.1,293.4 C70.4,294.5 72.7,295.6 75.9,296.2 C79.1,296.9 83.4,297.5 87.2,297.5 C91.0,297.5 95.3,296.9 98.5,296.2 C101.7,295.6 103.9,294.7 106.4,293.4 C108.8,292.1 111.6,290.5 113.4,288.4 C115.1,286.4 115.9,283.8 116.6,281.0 C117.4,278.2 117.7,274.7 117.7,271.3 C117.6,268.0 117.1,264.3 116.2,261.0 C115.4,257.8 114.2,254.6 112.5,251.8 C110.8,249.0 108.4,246.3 105.9,244.1 C103.4,242.0 100.6,239.8 97.5,238.6 C94.4,237.4 90.8,236.9 87.2,236.9Z" fill="none" stroke="#8c8c8c" stroke-width="4" opacity="0.45" filter="url(#b2)" clip-path="url(#cbr)"/>
<g clip-path="url(#cbr)">
<ellipse cx="71" cy="272" rx="6" ry="9" fill="#f6f6f6" opacity="0.8" filter="url(#b2)"/>
<ellipse cx="105" cy="266" rx="7" ry="12" fill="#f6f6f6" opacity="0.8" filter="url(#b2)"/>
<path d="M69.2,257.1 C69.8,256.0 71.6,255.5 73.4,255.0 C75.2,254.5 78.2,253.7 79.7,253.9 C81.3,254.2 82.0,255.6 82.9,256.6 C83.8,257.5 84.3,259.0 85.0,259.7 C85.8,260.5 86.5,260.8 87.4,261.0 C88.2,261.3 89.1,261.5 90.3,261.3 C91.5,261.1 93.6,260.1 94.6,259.7 C95.6,259.4 96.1,258.7 96.4,259.0 C96.6,259.3 96.5,260.6 95.8,261.3 C95.2,262.1 93.6,263.0 92.4,263.4 C91.3,263.9 89.7,263.2 89.1,264.2 C88.5,265.2 89.5,268.1 88.8,269.3 C88.2,270.5 86.6,271.2 85.0,271.4 C83.5,271.6 81.2,271.0 79.7,270.3 C78.3,269.6 77.6,268.2 76.6,267.2 C75.5,266.1 74.5,264.9 73.4,264.0 C72.3,263.0 70.4,262.5 69.7,261.3 C69.0,260.2 68.5,258.2 69.2,257.1Z" fill="#3e3e3e" filter="url(#b1)"/>
</g>
<g filter="url(#b1)">
<path d="M70.8,290.8 C72.1,289.3 74.9,287.9 77.6,287.1 C80.4,286.3 83.8,286.1 87.2,286.1 C90.5,286.1 94.7,286.3 97.7,287.1 C100.7,287.9 103.5,289.3 105.1,290.8 C106.8,292.3 108.1,294.6 107.8,296.1 C107.4,297.7 106.3,299.2 103.0,300.1 C99.8,301.0 93.0,301.4 88.2,301.4 C83.4,301.4 77.5,301.0 74.5,300.1 C71.4,299.2 70.3,297.7 69.7,296.1 C69.1,294.6 69.4,292.3 70.8,290.8Z" fill="#dcdcdc"/>
<path d="M70.8,290.8 C72.1,289.3 74.9,287.9 77.6,287.1 C80.4,286.3 83.8,286.1 87.2,286.1 C90.5,286.1 94.7,286.3 97.7,287.1 C100.7,287.9 103.5,289.3 105.1,290.8 C106.8,292.3 108.1,294.6 107.8,296.1 C107.4,297.7 106.3,299.2 103.0,300.1 C99.8,301.0 93.0,301.4 88.2,301.4 C83.4,301.4 77.5,301.0 74.5,300.1 C71.4,299.2 70.3,297.7 69.7,296.1 C69.1,294.6 69.4,292.3 70.8,290.8Z" fill="#fff" filter="url(#gc)" opacity="0.6"/>
<path d="M57.7,286.4 C58.6,285.5 61.9,287.5 63.9,287.9 C65.9,288.2 69.1,287.7 69.7,288.7 C70.3,289.7 67.3,292.1 67.3,294.0 C67.2,295.8 69.7,298.5 69.2,299.8 C68.6,301.1 65.3,301.9 63.9,301.6 C62.4,301.3 61.4,299.7 60.5,298.2 C59.6,296.8 59.0,294.9 58.6,292.9 C58.1,291.0 56.9,287.2 57.7,286.4Z" fill="#101010"/>
<path d="M105.7,286.8 C105.9,286.4 109.8,286.7 111.5,286.4 C113.2,286.1 114.9,283.8 115.9,284.9 C116.9,286.0 117.7,290.5 117.4,292.9 C117.2,295.4 115.8,298.7 114.5,299.5 C113.1,300.3 109.7,299.1 109.2,297.8 C108.7,296.5 111.4,293.4 111.5,291.9 C111.6,290.3 110.9,289.3 109.9,288.5 C108.9,287.6 105.4,287.1 105.7,286.8Z" fill="#101010"/>
<path d="M87.4,274.9 C88.0,271.2 90.3,271.2 91.0,274.9 C91.6,278.6 91.4,291.2 91.4,297.2 C91.4,303.2 91.4,307.6 91.2,310.9 C91.0,314.2 90.6,316.0 90.1,317.1 C89.6,318.1 88.7,318.1 88.2,317.1 C87.7,316.0 87.4,314.2 87.2,310.9 C86.9,307.6 86.9,303.2 86.9,297.2 C87.0,291.2 86.7,278.6 87.4,274.9Z" fill="#f6f6f6"/>
</g>
</g>
<path d="M87.2,232.8 C83.6,232.9 79.5,233.6 75.9,234.9 C72.3,236.2 68.7,238.0 65.6,240.4 C62.5,242.9 59.3,246.4 57.4,249.7 C55.4,253.0 54.5,256.6 53.6,260.0 C52.8,263.4 52.3,266.9 52.2,270.3 C52.1,273.7 52.6,277.8 52.8,280.6 C53.1,283.3 53.9,285.0 53.6,286.8 C53.4,288.6 51.7,289.6 51.6,291.3 C51.5,293.0 52.0,295.6 52.8,297.1 C53.6,298.6 54.9,299.2 56.3,300.4 C57.8,301.6 60.0,302.8 61.5,304.3 C62.9,305.8 64.3,307.5 65.2,309.4 C66.1,311.3 66.4,313.7 66.8,315.6 C67.2,317.5 63.7,320.0 67.6,320.9 C71.6,321.9 82.9,321.4 90.3,321.4 C97.7,321.4 108.3,322.1 112.1,320.9 C115.9,319.8 112.6,316.8 112.9,314.6 C113.3,312.3 113.4,309.6 114.2,307.4 C114.9,305.1 116.5,303.6 117.5,301.2 C118.4,298.8 119.3,296.0 119.9,292.9 C120.6,289.9 120.9,286.1 121.2,282.6 C121.4,279.2 121.6,276.1 121.4,272.4 C121.1,268.6 120.6,263.8 119.7,260.0 C118.8,256.2 118.0,253.1 116.0,249.7 C114.0,246.3 110.9,242.4 107.8,239.8 C104.7,237.3 100.9,235.4 97.5,234.3 C94.1,233.1 90.8,232.7 87.2,232.8Z" fill="none" stroke="#707070" stroke-width="1"/>
</g>
<g>
<!-- axial slice -->
<g fill="#000" opacity="0.45" filter="url(#sh)" transform="translate(3,3.5)"><ellipse cx="155.4" cy="276.5" rx="39.4" ry="46.3" transform="rotate(-6.5 155.4 276.5)" /></g>
<ellipse cx="155.4" cy="276.5" rx="39.0" ry="45.9" transform="rotate(-6.5 155.4 276.5)" fill="#f3f3f3" stroke="#808080" stroke-width="0.8"/>
<ellipse cx="155.4" cy="276.5" rx="35.4" ry="42.3" transform="rotate(-6.5 155.4 276.5)" fill="none" stroke="#4c4c4c" stroke-width="1.9"/>
<ellipse cx="155.4" cy="276.5" rx="34.6" ry="41.5" transform="rotate(-6.5 155.4 276.5)" fill="#dedede"/>
<g clip-path="url(#cai)">
<ellipse cx="155.4" cy="276.5" rx="34.6" ry="41.5" transform="rotate(-6.5 155.4 276.5)" fill="#fff" filter="url(#gy)"/>
<ellipse cx="155.4" cy="276.5" rx="33.9" ry="40.8" transform="rotate(-6.5 155.4 276.5)" fill="none" stroke="#8c8c8c" stroke-width="3.5" opacity="0.45" filter="url(#b2)"/>
<g fill="none" stroke="#f6f6f6" stroke-linecap="round" opacity="0.8" filter="url(#b2)">
<path d="M162.9,241.9 C163.6,243.6 166.1,249.1 166.9,252.2 C167.7,255.2 167.7,257.3 167.5,260.1 C167.3,263.0 166.3,266.2 165.8,269.2 C165.2,272.3 164.2,275.6 164.1,278.3 C164.0,281.1 164.4,282.9 165.2,285.7 C166.0,288.4 167.8,291.9 168.6,294.8 C169.4,297.6 169.6,301.4 169.7,302.7" stroke-width="9"/>
<path d="M152.7,263.5 C151.9,263.0 149.6,261.6 148.1,260.1 C146.6,258.6 145.5,256.1 143.6,254.4 C141.7,252.8 138.6,251.1 136.8,250.5 C134.9,249.8 133.0,250.5 132.2,250.5" stroke-width="4"/>
<path d="M151.5,285.7 C150.6,286.2 147.6,287.5 145.9,289.1 C144.1,290.6 142.3,292.7 141.3,294.8 C140.4,296.8 140.4,300.4 140.2,301.6" stroke-width="4"/>
<path d="M148.1,264.7 C148.9,264.3 150.8,263.4 152.7,262.4 C154.6,261.5 157.4,260.3 159.5,259.0 C161.6,257.7 164.2,255.2 165.2,254.4" stroke-width="4"/>
<path d="M150.4,284.5 C151.5,284.7 155.0,284.9 157.2,285.7 C159.5,286.4 161.8,287.5 164.1,289.1 C166.3,290.6 169.7,293.8 170.9,294.8" stroke-width="4"/>
</g>
<path d="M132.2,251.9 C133.7,251.4 135.4,251.1 136.8,251.3 C138.1,251.4 139.4,252.1 140.4,253.1 C141.4,254.1 142.2,255.9 143.0,257.3 C143.8,258.7 144.4,260.1 145.3,261.3 C146.1,262.4 147.3,263.4 148.1,264.1 C148.9,264.9 149.8,264.6 150.2,265.8 C150.6,267.1 150.7,269.4 150.6,271.5 C150.6,273.6 150.4,276.2 149.9,278.3 C149.5,280.4 148.4,283.0 148.1,284.0 C147.8,285.1 148.9,283.9 148.1,284.5 C147.4,285.2 145.2,286.7 143.8,287.9 C142.4,289.2 140.7,290.2 139.6,291.9 C138.5,293.6 138.1,297.4 137.3,298.2 C136.6,298.9 136.1,297.8 135.0,296.5 C134.0,295.1 132.5,291.8 131.1,290.2 C129.6,288.6 127.9,288.1 126.5,286.8 C125.1,285.5 123.8,283.9 122.9,282.2 C122.0,280.5 121.4,278.3 121.1,276.6 C120.7,274.8 120.6,273.5 120.6,271.5 C120.6,269.5 120.5,266.8 121.1,264.7 C121.6,262.6 122.6,260.7 123.7,259.0 C124.8,257.3 126.2,255.6 127.7,254.4 C129.1,253.3 130.7,252.5 132.2,251.9Z" fill="#fff" filter="url(#gl)"/>
<path d="M132.2,251.9 C133.7,251.4 135.4,251.1 136.8,251.3 C138.1,251.4 139.4,252.1 140.4,253.1 C141.4,254.1 142.2,255.9 143.0,257.3 C143.8,258.7 144.4,260.1 145.3,261.3 C146.1,262.4 147.3,263.4 148.1,264.1 C148.9,264.9 149.8,264.6 150.2,265.8 C150.6,267.1 150.7,269.4 150.6,271.5 C150.6,273.6 150.4,276.2 149.9,278.3 C149.5,280.4 148.4,283.0 148.1,284.0 C147.8,285.1 148.9,283.9 148.1,284.5 C147.4,285.2 145.2,286.7 143.8,287.9 C142.4,289.2 140.7,290.2 139.6,291.9 C138.5,293.6 138.1,297.4 137.3,298.2 C136.6,298.9 136.1,297.8 135.0,296.5 C134.0,295.1 132.5,291.8 131.1,290.2 C129.6,288.6 127.9,288.1 126.5,286.8 C125.1,285.5 123.8,283.9 122.9,282.2 C122.0,280.5 121.4,278.3 121.1,276.6 C120.7,274.8 120.6,273.5 120.6,271.5 C120.6,269.5 120.5,266.8 121.1,264.7 C121.6,262.6 122.6,260.7 123.7,259.0 C124.8,257.3 126.2,255.6 127.7,254.4 C129.1,253.3 130.7,252.5 132.2,251.9Z" fill="none" stroke="#d0d0d0" stroke-width="0.8" filter="url(#b1)"/>
<path d="M144.5,271.5 C144.4,272.1 144.3,273.9 143.8,274.9 C143.3,275.9 142.4,276.7 141.3,277.4 C140.2,278.2 138.6,278.7 137.3,279.5 C136.0,280.2 134.4,280.8 133.3,281.7 C132.3,282.7 131.4,284.6 131.1,285.2" fill="none" stroke="#e6e6e6" stroke-width="1.3" stroke-linecap="round" filter="url(#b1)"/>
<g fill="#bdbdbd" filter="url(#b1)"><circle cx="126.6" cy="291.5" r="2.6"/><circle cx="129.5" cy="297.5" r="2.8"/><circle cx="133.5" cy="304.5" r="2.8"/><circle cx="124.2" cy="285.8" r="1.6"/></g>
<path d="M152.0,236 L157,318" stroke="#7c7c7c" stroke-width="0.7"/>
</g>
</g>

<!-- labels -->
<g>
<text class="lg" x="764" y="36.3" fill="#5FAF55" textLength="311.6" lengthAdjust="spacingAndGlyphs">Typical neurodevelopment</text>
<text class="lg" x="764" y="121.3" fill="#4472C4" textLength="321.5" lengthAdjust="spacingAndGlyphs">Good outcomes after injury</text>
<text class="lg" x="764" y="211.9" fill="#DAAB2D" textLength="164" lengthAdjust="spacingAndGlyphs">Fair outcomes</text>
<text class="lg" x="764" y="308.4" fill="#A00000" textLength="176" lengthAdjust="spacingAndGlyphs">Poor outcomes</text>
<text class="sm" x="135.2" y="440.4" textLength="36.6" lengthAdjust="spacingAndGlyphs">Birth</text>
<text class="sm" x="284.3" y="440.4" textLength="77.6" lengthAdjust="spacingAndGlyphs">Childhood</text>
<text class="sm" x="451.6" y="440.4" textLength="97" lengthAdjust="spacingAndGlyphs">Adolescence</text>
<text class="sm" x="679" y="440.4" textLength="80.8" lengthAdjust="spacingAndGlyphs">Adulthood</text>
<text class="ax" x="401.4" y="484.2" textLength="55.6" lengthAdjust="spacingAndGlyphs">Time</text>
<text class="ax" transform="translate(35.3,263.6) rotate(-90)" textLength="98" lengthAdjust="spacingAndGlyphs">Function</text>
<text class="sm" transform="translate(38.2,67) rotate(-90)" textLength="46.6" lengthAdjust="spacingAndGlyphs">better</text>
<text class="sm" transform="translate(37.7,414.8) rotate(-90)" textLength="45.6" lengthAdjust="spacingAndGlyphs">worse</text>
<text class="md" x="97.9" y="148.8" textLength="48.6" lengthAdjust="spacingAndGlyphs">Early</text>
<text class="md" x="97.2" y="179.3" textLength="50" lengthAdjust="spacingAndGlyphs">brain</text>
<text class="md" x="93.4" y="209.6" textLength="57.4" lengthAdjust="spacingAndGlyphs">injury</text>
</g>
</svg>
</body>
</html>
